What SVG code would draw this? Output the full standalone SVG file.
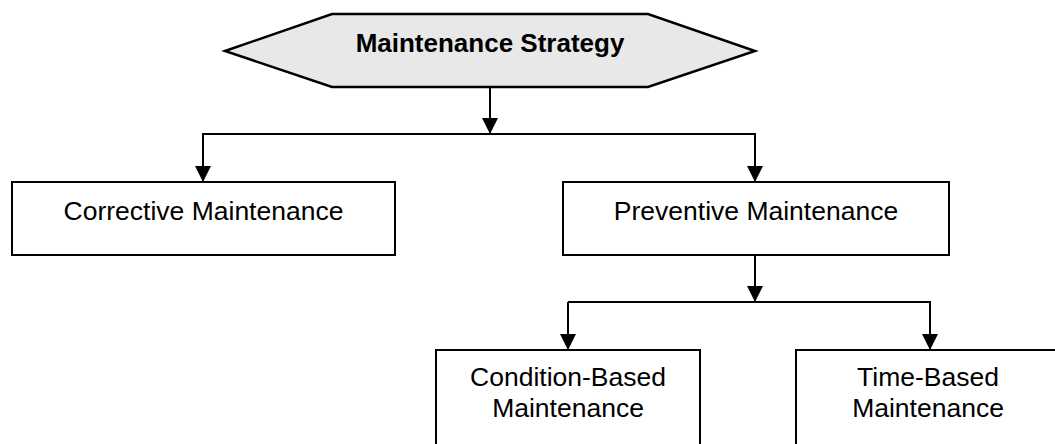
<svg xmlns="http://www.w3.org/2000/svg" width="1055" height="444" viewBox="0 0 1055 444">
<style>
.box{fill:#ffffff;stroke:#000000;stroke-width:2}
.hex{fill:#e8e8e8;stroke:#000000;stroke-width:2.5}
.lbl{font-family:"Liberation Sans",Arial,sans-serif;font-size:26.5px;fill:#000000;text-anchor:middle}
.ttl{font-family:"Liberation Sans",Arial,sans-serif;font-size:26px;font-weight:bold;fill:#000000;text-anchor:middle}
.conn{fill:none;stroke:#000000;stroke-width:2}
</style>
<defs>
<marker id="arr" markerUnits="userSpaceOnUse" markerWidth="16" markerHeight="16" refX="16" refY="8" orient="auto">
<path d="M0,0 L16,8 L0,16 z" fill="#000000"/>
</marker>
</defs>
<rect x="0" y="0" width="1055" height="444" fill="#ffffff"/>
<g id="connectors">
<line class="conn" x1="490" y1="87" x2="490" y2="134" marker-end="url(#arr)"/>
<polyline class="conn" points="203,182 203,134 755,134 755,182" marker-end="url(#arr)"/>
<line class="conn" x1="203" y1="134" x2="203" y2="182" marker-end="url(#arr)"/>
<line class="conn" x1="755" y1="255" x2="755" y2="302" marker-end="url(#arr)"/>
<polyline class="conn" points="568,302 930,302 930,350" marker-end="url(#arr)"/>
<line class="conn" x1="568" y1="302" x2="568" y2="350" marker-end="url(#arr)"/>
</g>
<g id="strategy">
<polygon class="hex" points="225,51 332,14 648,14 755,51 648,87 332,87"/>
<text class="ttl" x="490" y="52">Maintenance Strategy</text>
</g>
<g id="corrective">
<rect class="box" x="12" y="182" width="383" height="73"/>
<text class="lbl" x="203.5" y="220">Corrective Maintenance</text>
</g>
<g id="preventive">
<rect class="box" x="563" y="182" width="386" height="73"/>
<text class="lbl" x="756" y="220">Preventive Maintenance</text>
</g>
<g id="condition">
<rect class="box" x="436" y="350" width="264" height="110"/>
<text class="lbl" x="568" y="386">Condition-Based</text>
<text class="lbl" x="568" y="417">Maintenance</text>
</g>
<g id="time">
<rect class="box" x="796" y="350" width="264" height="110"/>
<text class="lbl" x="928" y="386">Time-Based</text>
<text class="lbl" x="928" y="417">Maintenance</text>
</g>
</svg>
